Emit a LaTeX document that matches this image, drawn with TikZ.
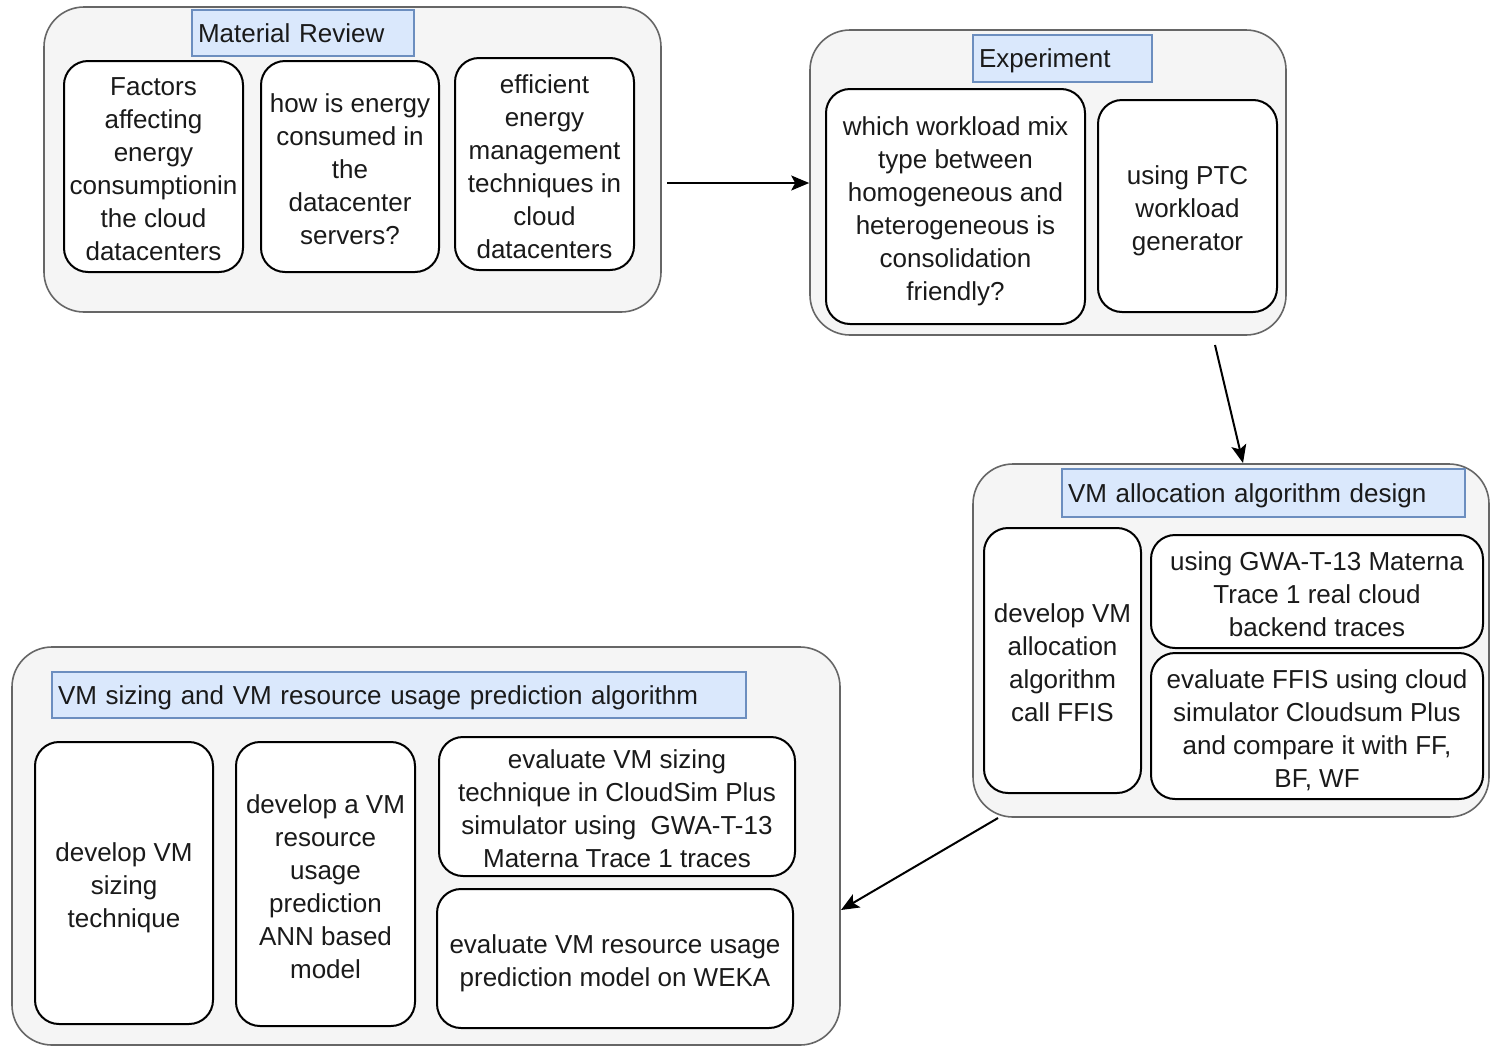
\documentclass[tikz,border=0pt]{standalone}
\usepackage{fontspec}
\setmainfont{Liberation Sans}
\usetikzlibrary{arrows.meta}
\definecolor{contfill}{HTML}{F5F5F5}
\definecolor{contdraw}{HTML}{666666}
\definecolor{tfill}{HTML}{DAE8FC}
\definecolor{tdraw}{HTML}{6C8EBF}
\definecolor{txt}{HTML}{1A1A1A}
\tikzset{
  cont/.style={draw=contdraw, fill=contfill, line width=1.6pt, rounded corners=40pt, inner sep=0pt},
  inbox/.style={draw=black, fill=white, line width=2pt, rounded corners=24pt, inner sep=0pt, align=center, text=txt,
    font=\fontsize{26}{33}\selectfont},
  titlebox/.style={draw=tdraw, fill=tfill, line width=1.6pt, inner xsep=6pt, inner ysep=0pt, align=left, text=txt,
    font=\fontsize{26}{33}\selectfont},
  arr/.style={line width=2pt, -{Stealth[length=18pt, width=15pt, inset=4pt]}}
}
\newcommand\contbox[5]{\node[cont, minimum width={#4-#2}, minimum height={#5-#3}] (#1) at ({(#2+#4)/2},{(#3+#5)/2}) {};}
\newcommand\rbox[6]{\node[inbox, minimum width={#4-#2}, minimum height={#5-#3}] (#1) at ({(#2+#4)/2},{(#3+#5)/2}) {\rule{0pt}{30.5pt}#6\rule[-7.5pt]{0pt}{7.5pt}};}
\newcommand\tbox[6]{\pgfmathsetlengthmacro\tbw{#4-#2-12}\node[titlebox, minimum width={#4-#2}, minimum height={#5-#3}, text width=\tbw] (#1) at ({(#2+#4)/2},{(#3+#5)/2}) {\rule{0pt}{25.5pt}#6\rule[-7.5pt]{0pt}{7.5pt}};}
\begin{document}
\begin{tikzpicture}[x=1pt,y=-1pt]
\useasboundingbox (0,0) rectangle (1490,1047);
% Material Review
\contbox{mr}{44}{7}{661}{312}
\tbox{mrt}{192}{10}{414}{56}{Material Review}
\rbox{mr1}{64}{61}{243}{272}{Factors\\affecting\\energy\\consumptionin\\the cloud\\datacenters}
\rbox{mr2}{261}{61}{439}{272}{how is energy\\consumed in\\the\\datacenter\\servers?}
\rbox{mr3}{455}{58}{634}{270}{efficient\\energy\\management\\techniques in\\cloud\\datacenters}
% Experiment
\contbox{ex}{810}{30}{1286}{335}
\tbox{ext}{973}{35}{1152}{82}{Experiment}
\rbox{ex1}{826}{89}{1085}{324}{which workload mix\\type between\\homogeneous and\\heterogeneous is\\consolidation\\friendly?}
\rbox{ex2}{1098}{100}{1277}{312}{using PTC\\workload\\generator}
% VM allocation
\contbox{va}{973}{464}{1489}{817}
\tbox{vat}{1062}{469}{1465}{517}{VM allocation algorithm design}
\rbox{va1}{984}{528}{1141}{793}{develop VM\\allocation\\algorithm\\call FFIS}
\rbox{va2}{1151}{535}{1483}{648}{using GWA-T-13 Materna\\Trace 1 real cloud\\backend traces}
\rbox{va3}{1151}{653}{1483}{799}{evaluate FFIS using cloud\\simulator Cloudsum Plus\\and compare it with FF,\\BF, WF}
% VM sizing
\contbox{vs}{12}{647}{840}{1045}
\tbox{vst}{52}{672}{746}{718}{VM sizing and VM resource usage prediction algorithm}
\rbox{vs1}{35}{742}{213}{1024}{develop VM\\sizing\\technique}
\rbox{vs2}{236}{742}{415}{1026}{develop a VM\\resource\\usage\\prediction\\ANN based\\model}
\rbox{vs3}{439}{737}{795}{876}{evaluate VM sizing\\technique in CloudSim Plus\\simulator using~ GWA-T-13\\Materna Trace 1 traces}
\rbox{vs4}{437}{889}{793}{1028}{evaluate VM resource usage\\prediction model on WEKA}
% arrows
\coordinate (s1) at (667,183);
\draw[arr] (s1) -- (s1 -| ex.west);
\coordinate (s2) at (1215,345);
\coordinate (e2) at (1243,463);
\draw[arr] (s2) -- (e2);
\coordinate (s3) at (998,818);
\coordinate (e3) at (841,910);
\draw[arr] (s3) -- (e3);
\end{tikzpicture}
\end{document}
